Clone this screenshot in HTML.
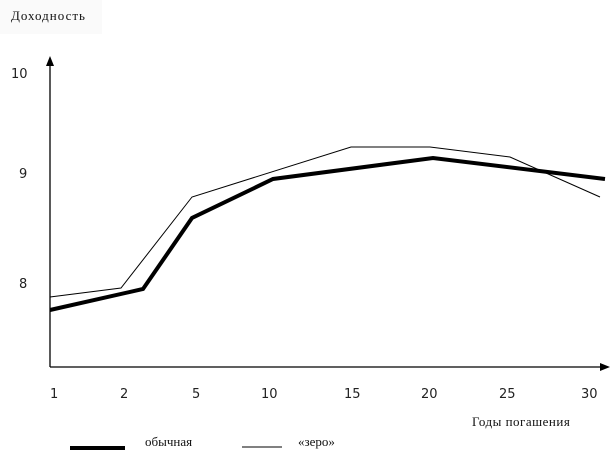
<!DOCTYPE html>
<html><head><meta charset="utf-8"><style>
body{margin:0;background:#fff;width:611px;height:458px;overflow:hidden}
svg{display:block}
.n{font-family:"DejaVu Sans","Liberation Sans",sans-serif;font-size:13px;fill:#222}
.s{font-family:"Liberation Serif","DejaVu Serif",serif;font-size:13px;fill:#111}
</style></head><body>
<svg width="611" height="458" viewBox="0 0 611 458">
<rect x="0" y="0" width="102" height="34" fill="#fafafa"/>
<text class="s" x="11" y="20" letter-spacing="1">Доходность</text>
<text class="n" x="11" y="78">10</text>
<text class="n" x="19" y="178">9</text>
<text class="n" x="19" y="288">8</text>
<line x1="50" y1="62" x2="50" y2="367" stroke="#000" stroke-width="1.3"/>
<polygon points="50,56 46,66 54,66" fill="#000"/>
<line x1="50" y1="367" x2="602" y2="367" stroke="#000" stroke-width="1.3"/>
<polygon points="610,367 600,363 600,371" fill="#000"/>
<polyline points="50,297 121,288 192,197 351,147 430,147 510,157 600,197" fill="none" stroke="#000" stroke-width="1"/>
<polyline points="50,310 143,289 192,218 273,179 433,158 605,179" fill="none" stroke="#000" stroke-width="4"/>
<g class="n">
<text x="50" y="398">1</text><text x="120" y="398">2</text><text x="192" y="398">5</text>
<text x="261" y="398">10</text><text x="344" y="398">15</text><text x="421" y="398">20</text>
<text x="499" y="398">25</text><text x="581" y="398">30</text>
</g>
<text class="s" x="472" y="426" letter-spacing="0.5">Годы погашения</text>
<line x1="70" y1="448" x2="125" y2="448" stroke="#000" stroke-width="4"/>
<text class="s" x="145" y="446">обычная</text>
<line x1="242" y1="447" x2="282" y2="447" stroke="#000" stroke-width="1"/>
<text class="s" x="298" y="446">«зеро»</text>
</svg>
</body></html>
